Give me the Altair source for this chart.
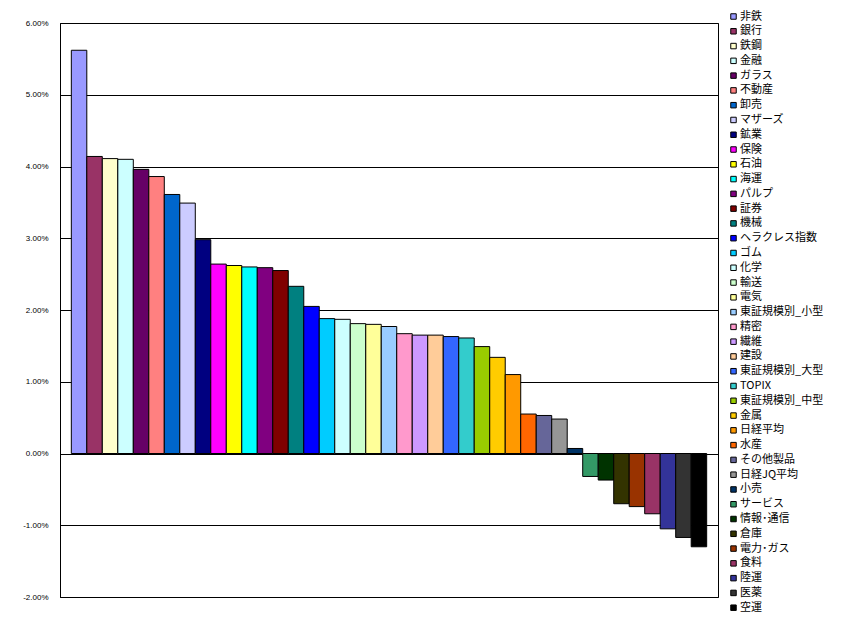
import altair as alt
import pandas as pd

categories = ["非鉄", "銀行", "鉄鋼", "金融", "ガラス", "不動産", "卸売", "マザーズ", "鉱業", "保険",
              "石油", "海運", "パルプ", "証券", "機械", "ヘラクレス指数", "ゴム", "化学", "輸送", "電気",
              "東証規模別_小型", "精密", "繊維", "建設", "東証規模別_大型", "TOPIX", "東証規模別_中型", "金属",
              "日経平均", "水産", "その他製品", "日経JQ平均", "小売", "サービス", "情報･通信", "倉庫",
              "電力･ガス", "食料", "陸運", "医薬", "空運"]

values_pct = [5.62, 4.14, 4.11, 4.10, 3.96, 3.86, 3.61, 3.49, 2.98, 2.64,
              2.62, 2.60, 2.59, 2.55, 2.33, 2.05, 1.88, 1.87, 1.81, 1.80,
              1.77, 1.67, 1.65, 1.65, 1.63, 1.61, 1.49, 1.34, 1.10, 0.55,
              0.53, 0.48, 0.07, -0.32, -0.37, -0.70, -0.74, -0.84, -1.05, -1.17,
              -1.30]

colors = ["#9999FF", "#993366", "#FFFFCC", "#CCFFFF", "#660066", "#FF8080", "#0066CC", "#CCCCFF",
          "#000080", "#FF00FF", "#FFFF00", "#00FFFF", "#800080", "#800000", "#008080", "#0000FF",
          "#00CCFF", "#CCFFFF", "#CCFFCC", "#FFFF99", "#99CCFF", "#FF99CC", "#CC99FF", "#FFCC99",
          "#3366FF", "#33CCCC", "#99CC00", "#FFCC00", "#FF9900", "#FF6600", "#666699", "#969696",
          "#003366", "#339966", "#003300", "#333300", "#993300", "#993366", "#333399", "#333333",
          "#000000"]

y_ticks = [-0.02, -0.01, 0.0, 0.01, 0.02, 0.03, 0.04, 0.05, 0.06]

df = pd.DataFrame({"cat": categories, "val": [v / 100 for v in values_pct]})

chart = alt.Chart(df).mark_bar(stroke="black", strokeWidth=1).encode(
    x=alt.X("cat:N", sort=categories,
            scale=alt.Scale(paddingInner=0, paddingOuter=0.73),
            axis=None),
    y=alt.Y("val:Q",
            scale=alt.Scale(domain=[-0.02, 0.06], nice=False, zero=False),
            axis=alt.Axis(format=".2%", values=y_ticks, title=None, grid=True,
                          gridColor="black", gridOpacity=1, gridWidth=1,
                          ticks=False, domain=True, domainColor="black",
                          labelFont="Liberation Sans", labelFontSize=8,
                          labelPadding=12, labelColor="black",
                          labelExpr="replace(datum.label, '−', '-')")),
    color=alt.Color("cat:N", sort=categories,
                    scale=alt.Scale(domain=categories, range=colors),
                    legend=alt.Legend(orient="none", legendX=668, legendY=-12,
                                      title=None, columns=1, padding=0,
                                      labelFont="Noto Sans CJK JP", labelFontSize=11,
                                      labelColor="black", labelOffset=1,
                                      symbolType="square", symbolSize=30,
                                      symbolStrokeColor="black", symbolStrokeWidth=1,
                                      symbolOpacity=1, rowPadding=2.78,
                                      symbolLimit=60, labelLimit=200)),
).properties(
    width=658, height=574,
    autosize="none",
    padding={"left": 52, "top": 15, "right": 110, "bottom": 28},
).configure_view(stroke="black", strokeWidth=1)

chart.save("out.html", embed_options={"renderer": "svg", "actions": False})
